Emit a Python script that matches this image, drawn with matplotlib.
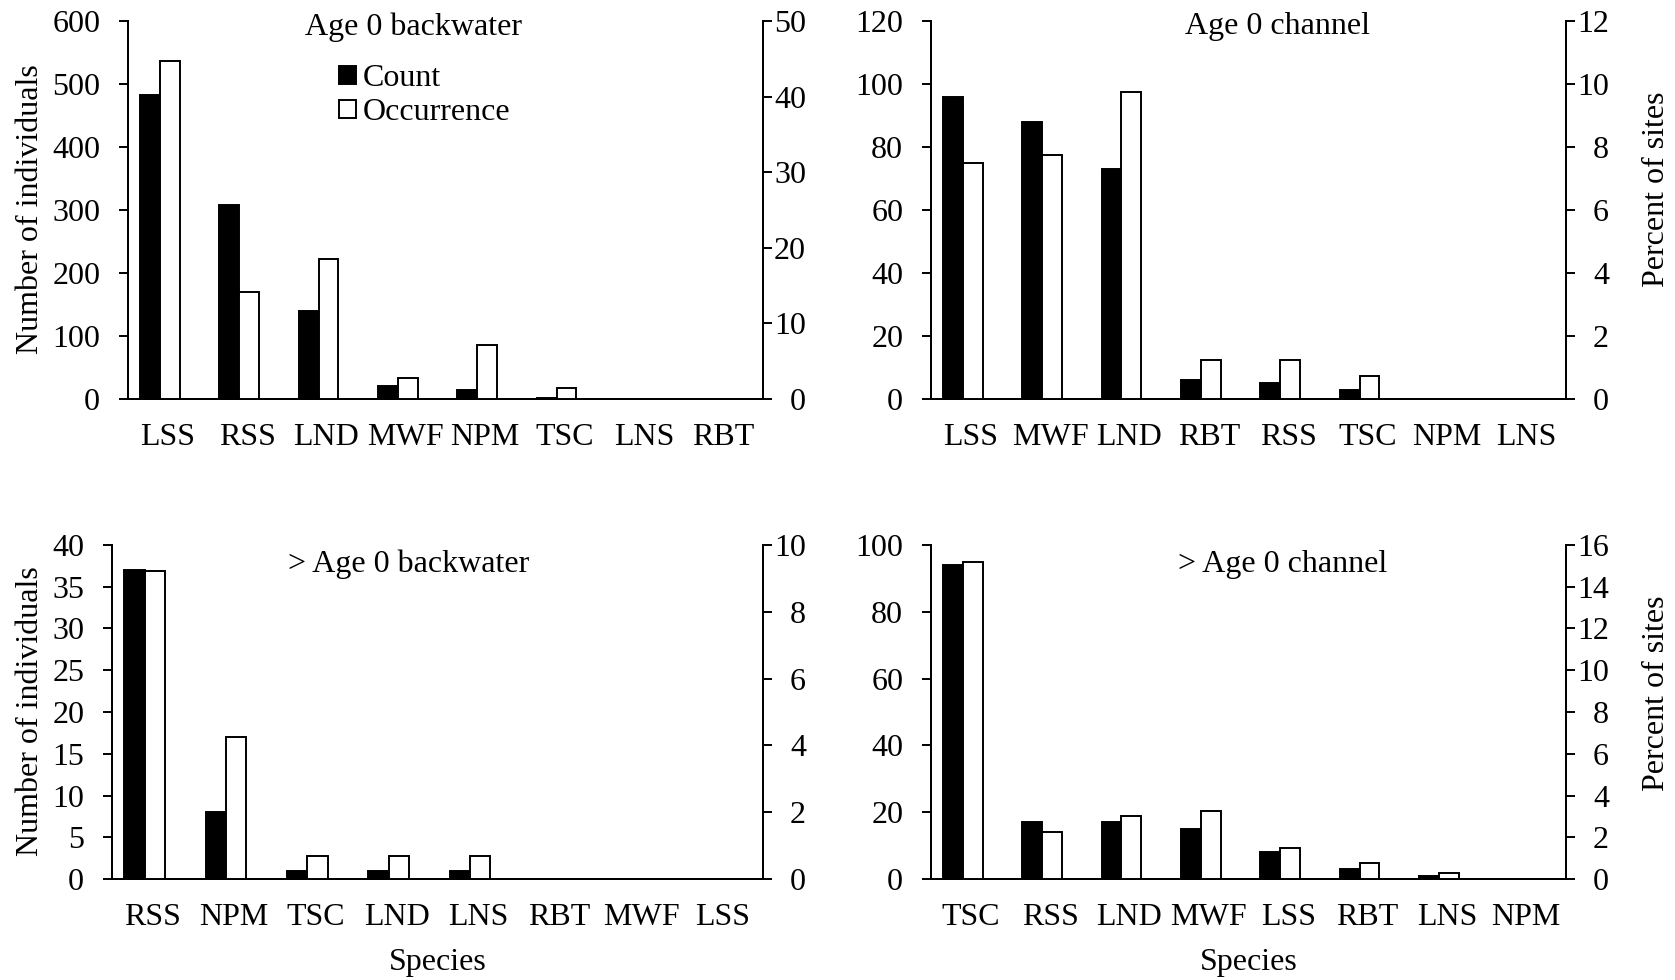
import numpy as np
import matplotlib
matplotlib.use("Agg")
import matplotlib.pyplot as plt
from matplotlib.patches import Patch

plt.rcParams["font.family"] = ["Liberation Serif", "DejaVu Serif"]

# ---------------------------------------------------------------------
# Data
# ---------------------------------------------------------------------
sp_age0_bw = ["LSS", "RSS", "LND", "MWF", "NPM", "TSC", "LNS", "RBT"]
count_age0_bw = [483, 308, 140, 21, 14, 1, 0, 0]
occ_age0_bw = [44.7, 14.2, 18.5, 2.8, 7.1, 1.4, 0, 0]

sp_age0_ch = ["LSS", "MWF", "LND", "RBT", "RSS", "TSC", "NPM", "LNS"]
count_age0_ch = [96, 88, 73, 6, 5, 3, 0, 0]
occ_age0_ch = [7.5, 7.74, 9.74, 1.25, 1.25, 0.73, 0, 0]

sp_old_bw = ["RSS", "NPM", "TSC", "LND", "LNS", "RBT", "MWF", "LSS"]
count_old_bw = [37, 8, 1, 1, 1, 0, 0, 0]
occ_old_bw = [9.21, 4.25, 0.7, 0.7, 0.7, 0, 0, 0]

sp_old_ch = ["TSC", "RSS", "LND", "MWF", "LSS", "RBT", "LNS", "NPM"]
count_old_ch = [94, 17, 17, 15, 8, 3, 1, 0]
occ_old_ch = [15.2, 2.24, 3.0, 3.26, 1.5, 0.75, 0.27, 0]

FS = 23
W = 0.25      # width of each bar (category = 1)
SHIFT = -0.1  # Excel draws the pair a bit left of the category centre
LW = 1.4

fig = plt.figure(figsize=(16.75, 9.8), dpi=100)


def panel(rect, species, counts, occ, ymax_l, step_l, ymax_r, step_r, title, tx, ty,
          left_label=None, right_label=None, xlabel=None, ly=-0.13, ry=1.12, ry_y=0.555):
    ax = fig.add_axes(rect)
    ax2 = ax.twinx()
    x = np.arange(len(species))
    ax.bar(x + SHIFT - W / 2, counts, W, color="black", edgecolor="black", lw=LW, zorder=3)
    ax2.bar(x + SHIFT + W / 2, occ, W, color="white", edgecolor="black", lw=LW, zorder=3)

    ax.set_xlim(-0.5, len(species) - 0.5)
    ax.set_ylim(0, ymax_l); ax2.set_ylim(0, ymax_r)
    ax.set_yticks(np.arange(0, ymax_l + step_l / 2, step_l))
    ax2.set_yticks(np.arange(0, ymax_r + step_r / 2, step_r))
    ax.set_xticks(x); ax.set_xticklabels(species)

    for a in (ax, ax2):
        a.spines["top"].set_visible(False)
        for s in ("left", "right", "bottom"):
            a.spines[s].set_linewidth(LW)
        a.tick_params(axis="x", labelsize=FS, length=0, pad=17)
    ax.tick_params(axis="y", labelsize=FS, length=6.5, width=LW, pad=13.5)
    ax2.tick_params(axis="y", labelsize=FS, length=6.5, width=LW, pad=24.5)
    for lab in ax2.get_yticklabels():
        lab.set_horizontalalignment("right")

    ax.text(tx, ty, title, transform=ax.transAxes, ha="center", va="top", fontsize=FS)
    if left_label:
        ax.set_ylabel(left_label, fontsize=FS)
        ax.yaxis.set_label_coords(ly, 0.503)
    if right_label:
        ax2.set_ylabel(right_label, fontsize=FS, rotation=90)
        ax2.yaxis.set_label_coords(ry, ry_y)
    if xlabel:
        ax.set_xlabel(xlabel, fontsize=FS, labelpad=12)
    return ax, ax2


panel([0.07642, 0.59286, 0.37910, 0.38571], sp_age0_bw, count_age0_bw, occ_age0_bw,
      600, 100, 50, 10, "Age 0 backwater", 0.449, 1.0225,
      left_label="Number of individuals", ly=-0.1307)
panel([0.55582, 0.59286, 0.37910, 0.38571], sp_age0_ch, count_age0_ch, occ_age0_ch,
      120, 20, 12, 2, "Age 0 channel", 0.546, 1.0225,
      right_label="Percent of sites", ry=1.1197)
panel([0.06687, 0.10306, 0.38866, 0.34082], sp_old_bw, count_old_bw, occ_old_bw,
      40, 5, 10, 2, "> Age 0 backwater", 0.455, 0.9865,
      left_label="Number of individuals", xlabel="Species", ly=-0.103)
panel([0.55582, 0.10306, 0.37910, 0.34082], sp_old_ch, count_old_ch, occ_old_ch,
      100, 20, 16, 2, "> Age 0 channel", 0.554, 0.9865,
      right_label="Percent of sites", xlabel="Species", ry=1.1197)

handles = [Patch(facecolor="black", edgecolor="black", lw=LW, label="Count"),
           Patch(facecolor="white", edgecolor="black", lw=LW, label="Occurrence")]
fig.legend(handles=handles, loc="upper left", bbox_to_anchor=(339 / 1675, 1 - 64.5 / 980),
           frameon=False, fontsize=FS, handlelength=0.52, handleheight=0.52,
           handletextpad=0.22, labelspacing=0.15, borderpad=0, borderaxespad=0)

fig.savefig("out.png", dpi=100)
